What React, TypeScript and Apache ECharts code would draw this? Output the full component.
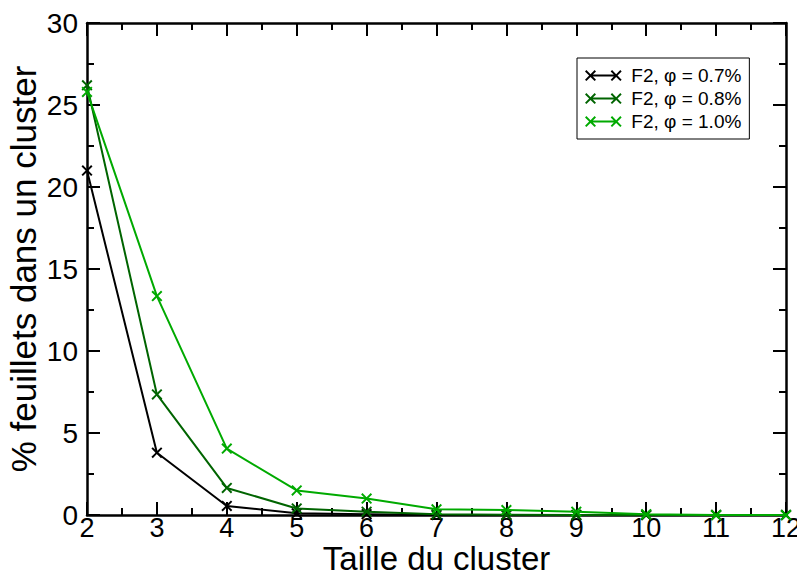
import React, { useEffect, useRef } from "react";
import * as echarts from "echarts";

const clusterSizes = [2, 3, 4, 5, 6, 7, 8, 9, 10, 11, 12];
const seriesNames = ["F2, φ = 0.7%", "F2, φ = 0.8%", "F2, φ = 1.0%"];
const phi07 = [21.0, 3.8, 0.55, 0.1, 0.05, 0.0, 0.0, 0.0, 0.0, 0.0, 0.0];
const phi08 = [26.2, 7.35, 1.65, 0.4, 0.2, 0.05, 0.02, 0.0, 0.0, 0.0, 0.0];
const phi10 = [25.8, 13.35, 4.05, 1.5, 1.0, 0.35, 0.3, 0.2, 0.05, 0.0, 0.0];
const colors = ["#000000", "#006400", "#00aa00"];

const CROSS = "path://M0,1.5L1.5,0L6,4.5L10.5,0L12,1.5L7.5,6L12,10.5L10.5,12L6,7.5L1.5,12L0,10.5L4.5,6Z";
const LEGEND_ICON =
  "path://M0,1.5L1.5,0L6,4.5L10.5,0L12,1.5L7.5,6L12,10.5L10.5,12L6,7.5L1.5,12L0,10.5L4.5,6Z" +
  "M6,5L34,5L34,7L6,7Z" +
  "M28,1.5L29.5,0L34,4.5L38.5,0L40,1.5L35.5,6L40,10.5L38.5,12L34,7.5L29.5,12L28,10.5L32.5,6Z";

export default function App() {
  const ref = useRef<HTMLDivElement>(null);
  useEffect(() => {
    if (!ref.current) return;
    const chart = echarts.init(ref.current, undefined, { renderer: "svg" });
    const font = "Liberation Sans, Arial, sans-serif";
    const mk = () => ({
      axisLine: { show: true, onZero: false, lineStyle: { color: "#000", width: 2.5 } },
      axisTick: { show: true, inside: true, length: 13, lineStyle: { color: "#000", width: 2 } },
      minorTick: { show: true, splitNumber: 2, length: 7, lineStyle: { color: "#000", width: 2 } },
      splitLine: { show: false },
      minorSplitLine: { show: false },
    });
    const datasets = [phi07, phi08, phi10];
    const mainSeries = seriesNames.map((name, i) => ({
      name,
      type: "line",
      xAxisIndex: 0,
      yAxisIndex: 0,
      data: clusterSizes.map((x, j) => [x, datasets[i][j]]),
      symbol: CROSS,
      symbolSize: 11,
      showAllSymbol: true,
      color: colors[i],
      lineStyle: { color: colors[i], width: 2 },
      itemStyle: { color: colors[i] },
      clip: false,
      z: 3 + i,
    }));
    const mirror = {
      name: "_mirror",
      type: "line",
      xAxisIndex: 1,
      yAxisIndex: 1,
      data: clusterSizes.map((x, j) => [x, phi10[j]]),
      symbol: "none",
      silent: true,
      lineStyle: { opacity: 0 },
      itemStyle: { opacity: 0 },
      tooltip: { show: false },
    };
    chart.setOption({
      animation: false,
      backgroundColor: "#fff",
      grid: { left: 87, right: 19, top: 23, bottom: 64, outerBoundsMode: "none", containLabel: false },
      legend: {
        orient: "vertical",
        left: 577,
        top: 58,
        borderColor: "#000",
        borderWidth: 1,
        padding: [8, 8, 8, 8],
        itemWidth: 38,
        itemHeight: 11,
        itemGap: 4,
        textStyle: { fontFamily: font, fontSize: 19, color: "#000", padding: [0, 0, 0, 4] },
        data: seriesNames.map((n) => ({ name: n, icon: LEGEND_ICON })),
      },
      xAxis: [
        {
          type: "value",
          min: 2,
          max: 12,
          interval: 1,
          position: "bottom",
          name: "Taille du cluster",
          nameLocation: "middle",
          nameGap: 29,
          nameMoveOverlap: false,
          nameTextStyle: { fontFamily: font, fontSize: 33, lineHeight: 28, color: "#000", verticalAlign: "top" },
          axisLabel: { fontFamily: font, fontSize: 27, lineHeight: 24, color: "#000", margin: 1 },
          ...mk(),
        },
        {
          type: "value",
          min: 2,
          max: 12,
          interval: 1,
          position: "top",
          axisLabel: { show: false },
          ...mk(),
        },
      ],
      yAxis: [
        {
          type: "value",
          min: 0,
          max: 30,
          interval: 5,
          position: "left",
          name: "% feuillets dans un cluster",
          nameLocation: "middle",
          nameGap: 46,
          nameMoveOverlap: false,
          nameTextStyle: { fontFamily: font, fontSize: 35, lineHeight: 35, color: "#000" },
          axisLabel: { fontFamily: font, fontSize: 28, color: "#000", margin: 9 },
          ...mk(),
        },
        {
          type: "value",
          min: 0,
          max: 30,
          interval: 5,
          position: "right",
          axisLabel: { show: false },
          ...mk(),
        },
      ],
      series: [...mainSeries, mirror],
    });
    return () => chart.dispose();
  }, []);
  return <div ref={ref} style={{ width: 805, height: 579, margin: -8 }} />;
}
